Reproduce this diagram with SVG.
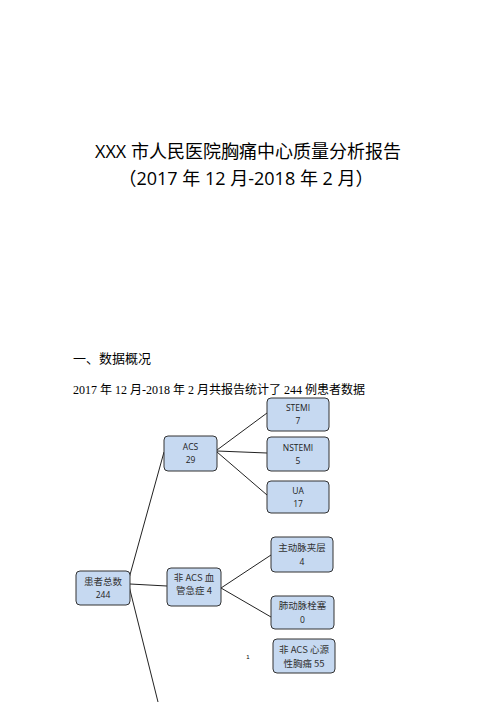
<svg xmlns="http://www.w3.org/2000/svg" width="496" height="702" viewBox="0 0 496 702">
<style>
.title{font-family:"Open Sans","Liberation Sans","Noto Sans CJK SC",sans-serif;font-size:18px;fill:#000;text-anchor:middle}
.body{font-family:"Liberation Serif","Noto Sans CJK SC",serif;fill:#000}
.box{fill:#c6d9f1;stroke:#333;stroke-width:1}
.lbl{font-family:"Open Sans","Liberation Sans","Noto Sans CJK SC",sans-serif;font-size:8.5px;fill:#222;text-anchor:middle}
.lblc{font-family:"Noto Sans CJK SC",sans-serif;font-size:9.5px;fill:#333;text-anchor:middle}
.conn line{stroke:#222;stroke-width:1}
</style>
<rect width="496" height="702" fill="#fff"/>
<text class="title" x="248" y="158">XXX 市人民医院胸痛中心质量分析报告</text>
<text class="title" x="246" y="185">（2017 年 12 月-2018 年 2 月）</text>
<text class="body" x="73" y="363" font-size="13">一、数据概况</text>
<text class="body" x="73" y="394" font-size="12">2017 年 12 月-2018 年 2 月共报告统计了 244 例患者数据</text>
<g class="conn">
<line x1="164" y1="452" x2="128" y2="582"/>
<line x1="128" y1="582" x2="158" y2="702"/>
<line x1="130" y1="584" x2="167" y2="586"/>
<line x1="217" y1="450" x2="267" y2="413"/>
<line x1="217" y1="451" x2="267" y2="453"/>
<line x1="217" y1="452" x2="267" y2="495"/>
<line x1="221" y1="588" x2="271" y2="555"/>
<line x1="221" y1="588" x2="271" y2="617"/>
</g>
<g id="stemi"><rect class="box" x="267" y="398" width="62" height="33" rx="4"/><text class="lbl" x="298" y="411">STEMI</text><text class="lbl" x="298" y="424">7</text></g>
<g id="nstemi"><rect class="box" x="267" y="437" width="62" height="34" rx="4"/><text class="lbl" x="298" y="451">NSTEMI</text><text class="lbl" x="298" y="464">5</text></g>
<g id="ua"><rect class="box" x="267" y="481" width="62" height="32" rx="4"/><text class="lbl" x="298" y="494">UA</text><text class="lbl" x="298" y="507">17</text></g>
<g id="acs"><rect class="box" x="164" y="436" width="53" height="35" rx="4"/><text class="lbl" x="190.5" y="450">ACS</text><text class="lbl" x="190.5" y="463">29</text></g>
<g id="aortic"><rect class="box" x="271" y="537" width="62" height="35" rx="4"/><text class="lblc" x="302" y="551">主动脉夹层</text><text class="lbl" x="302" y="565">4</text></g>
<g id="pe"><rect class="box" x="271" y="596" width="63" height="33" rx="4"/><text class="lblc" x="302.5" y="609">肺动脉栓塞</text><text class="lbl" x="302.5" y="623">0</text></g>
<g id="nonacs-cardiac"><rect class="box" x="273" y="639" width="62" height="34" rx="4"/><text class="lblc" x="304" y="653">非 ACS 心源</text><text class="lblc" x="304" y="667">性胸痛 55</text></g>
<g id="nonacs-vascular"><rect class="box" x="167" y="568" width="54" height="38" rx="4"/><text class="lblc" x="194" y="581">非 ACS 血</text><text class="lblc" x="194" y="594">管急症 4</text></g>
<g id="total"><rect class="box" x="76" y="571" width="54" height="34" rx="4"/><text class="lblc" x="103" y="585">患者总数</text><text class="lbl" x="103" y="598">244</text></g>
<text x="248" y="659" font-family="Liberation Sans,sans-serif" font-size="6" fill="#000" text-anchor="middle">1</text>
</svg>
